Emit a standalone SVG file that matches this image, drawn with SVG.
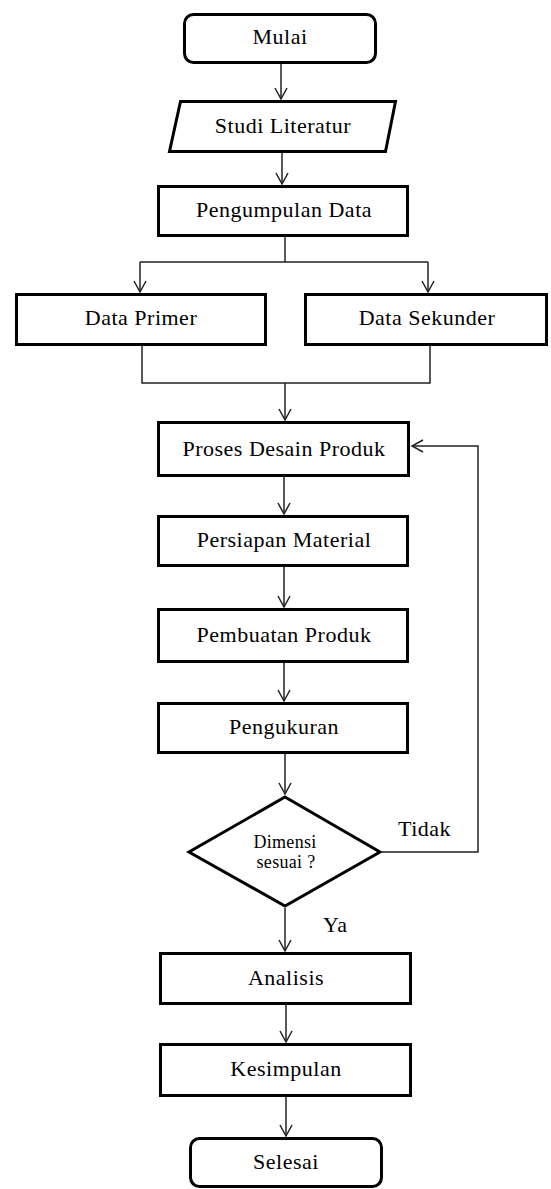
<svg xmlns="http://www.w3.org/2000/svg" width="551" height="1189" viewBox="0 0 551 1189">
<style>
  .box { fill: #fff; stroke: #000; stroke-width: 3; }
  .lbl { font-family: "Liberation Serif", "Times New Roman", serif; font-size: 22px; letter-spacing: 0.5px; fill: #000; text-anchor: middle; }
  .small { font-size: 18px; letter-spacing: 0.3px; }
  .side { text-anchor: start; }
  .conn { fill: none; stroke: #222; stroke-width: 1.5; }
</style>
<defs>
  <marker id="arr" markerUnits="userSpaceOnUse" markerWidth="14" markerHeight="14" refX="0" refY="0" orient="auto" overflow="visible">
    <path d="M-11,-6 L0,0 L-11,6" fill="none" stroke="#222" stroke-width="1.5"/>
  </marker>
</defs>
<rect width="551" height="1189" fill="#fff"/>

<g id="connectors">
  <line class="conn" x1="281" y1="64" x2="281" y2="99" marker-end="url(#arr)"/>
  <line class="conn" x1="282" y1="153" x2="282" y2="184" marker-end="url(#arr)"/>
  <polyline class="conn" points="285,237 285,262"/>
  <polyline class="conn" points="140,262 428,262"/>
  <line class="conn" x1="140" y1="262" x2="140" y2="292" marker-end="url(#arr)"/>
  <line class="conn" x1="428" y1="262" x2="428" y2="292" marker-end="url(#arr)"/>
  <polyline class="conn" points="142,346 142,383 430,383 430,346"/>
  <line class="conn" x1="285" y1="383" x2="285" y2="420" marker-end="url(#arr)"/>
  <line class="conn" x1="284" y1="477" x2="284" y2="514" marker-end="url(#arr)"/>
  <line class="conn" x1="284" y1="567" x2="284" y2="607" marker-end="url(#arr)"/>
  <line class="conn" x1="284" y1="663" x2="284" y2="701" marker-end="url(#arr)"/>
  <line class="conn" x1="285" y1="754" x2="285" y2="794" marker-end="url(#arr)"/>
  <line class="conn" x1="285" y1="908" x2="285" y2="951" marker-end="url(#arr)"/>
  <line class="conn" x1="286" y1="1005" x2="286" y2="1042" marker-end="url(#arr)"/>
  <line class="conn" x1="286" y1="1097" x2="286" y2="1136" marker-end="url(#arr)"/>
  <polyline class="conn" points="382,852 478,852 478,446 412,446" marker-end="url(#arr)"/>
  <text class="lbl side" x="398" y="836">Tidak</text>
  <text class="lbl side" x="323" y="932">Ya</text>
</g>

<g id="mulai">
  <rect class="box" x="184.5" y="14.5" width="191" height="48" rx="9"/>
  <text class="lbl" x="280" y="44">Mulai</text>
</g>
<g id="studi">
  <polygon class="box" points="180.5,101.5 395.5,101.5 385.5,151.5 169.5,151.5"/>
  <text class="lbl" x="283" y="133">Studi Literatur</text>
</g>
<g id="pengumpulan">
  <rect class="box" x="158.5" y="186.5" width="249" height="49"/>
  <text class="lbl" x="284" y="217">Pengumpulan Data</text>
</g>
<g id="primer">
  <rect class="box" x="16.5" y="294.5" width="249" height="50"/>
  <text class="lbl" x="141" y="325">Data Primer</text>
</g>
<g id="sekunder">
  <rect class="box" x="305.5" y="294.5" width="241" height="50"/>
  <text class="lbl" x="427" y="325">Data Sekunder</text>
</g>
<g id="proses">
  <rect class="box" x="158.5" y="422.5" width="250" height="53"/>
  <text class="lbl" x="284" y="456">Proses Desain Produk</text>
</g>
<g id="persiapan">
  <rect class="box" x="158.5" y="516.5" width="249" height="49"/>
  <text class="lbl" x="284" y="547">Persiapan Material</text>
</g>
<g id="pembuatan">
  <rect class="box" x="158.5" y="609.5" width="249" height="52"/>
  <text class="lbl" x="284" y="642">Pembuatan Produk</text>
</g>
<g id="pengukuran">
  <rect class="box" x="158.5" y="703.5" width="249" height="49"/>
  <text class="lbl" x="284" y="734">Pengukuran</text>
</g>
<g id="dimensi">
  <polygon class="box" points="285,797 380,852 285,906 189,852"/>
  <text class="lbl small" x="285" y="848">Dimensi</text>
  <text class="lbl small" x="286" y="868">sesuai ?</text>
</g>
<g id="analisis">
  <rect class="box" x="160.5" y="953.5" width="250" height="50"/>
  <text class="lbl" x="286" y="985">Analisis</text>
</g>
<g id="kesimpulan">
  <rect class="box" x="160.5" y="1044.5" width="250" height="51"/>
  <text class="lbl" x="286" y="1076">Kesimpulan</text>
</g>
<g id="selesai">
  <rect class="box" x="190.5" y="1138.5" width="191" height="48" rx="9"/>
  <text class="lbl" x="286" y="1169">Selesai</text>
</g>
</svg>
